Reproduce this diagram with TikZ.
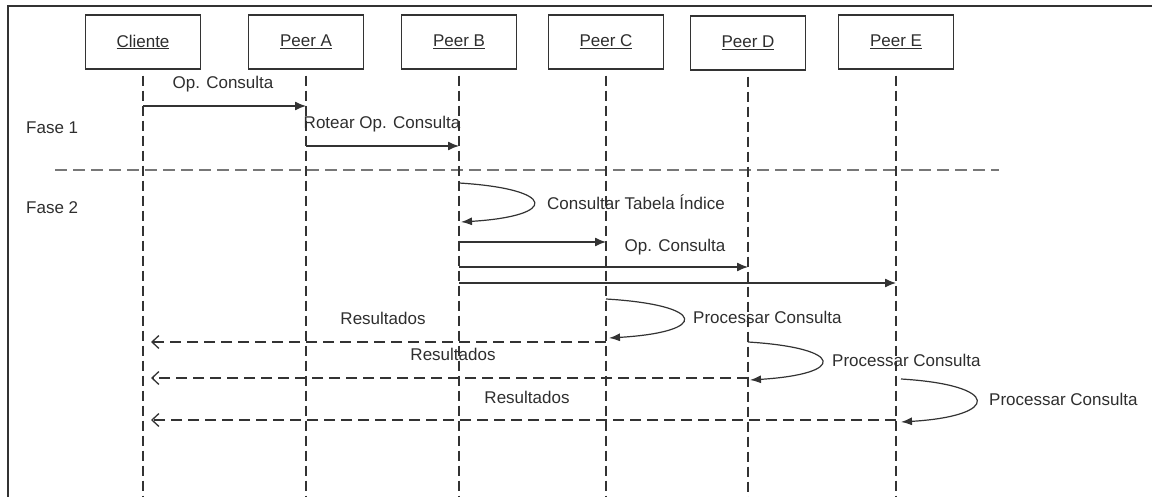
\documentclass[tikz,border=0pt]{standalone}
\usepackage{fontspec}
\setmainfont{Liberation Sans}
\usetikzlibrary{arrows.meta}
\definecolor{ln}{HTML}{333333}
\definecolor{tx}{HTML}{2E2E2E}
\definecolor{sep}{HTML}{777777}
\tikzset{
  x=1pt, y=-1pt,
  every node/.style={font=\fontsize{17}{20}\selectfont, text=tx, inner sep=0pt},
  actor/.style={draw=ln, line width=1.2pt, minimum width=115pt, minimum height=54pt, fill=white},
  lifeline/.style={draw=ln, line width=1.4pt, dash pattern=on 10pt off 5pt},
  msg/.style={draw=ln, line width=1.3pt, -{Latex[length=11pt,width=9pt]}},
  ret/.style={draw=ln, line width=1.3pt, dash pattern=on 11pt off 6pt, -{Straight Barb[length=7pt,width=13pt,line width=1.3pt]}},
  selfmsg/.style={draw=ln, line width=1.2pt, -{Latex[length=11pt,width=8pt]}},
  lbl/.style={anchor=center},
  lblw/.style={anchor=west},
}
\begin{document}
\begin{tikzpicture}
\useasboundingbox (0,0) rectangle (1152,497);
% frame
\coordinate (fbl) at (8,497);
\coordinate (ftl) at (8,6);
\coordinate (ftr) at (1152,6);
\draw[ln, line width=1.5pt] (fbl) -- (ftl) -- (ftr);
% separator
\coordinate (s1) at (55,170);
\coordinate (s2) at (999,170);
\draw[sep, line width=1.8pt, dash pattern=on 12pt off 6pt] (s1) -- (s2);
% actors
\node[actor] (cl) at (143,42) {\underline{Cliente}};
\node[actor] (pa) at (306,42) {\underline{Peer A}};
\node[actor] (pb) at (459,42) {\underline{Peer B}};
\node[actor] (pc) at (606,42) {\underline{Peer C}};
\node[actor] (pd) at (748,43) {\underline{Peer D}};
\node[actor] (pe) at (896,42) {\underline{Peer E}};
% lifelines
\foreach \a in {cl,pa,pb,pc,pd,pe}{
  \coordinate (\a b) at (\a |- 0,497);
  \draw[lifeline] ([yshift=-6pt]\a.south) -- (\a b);
}
% phase labels
\node[lblw] (f1) at (26,128) {Fase 1};
\node[lblw] (f2) at (26,208) {Fase 2};
% phase 1
\draw[msg] (cl |- 0,106) -- (pa |- 0,106);
\node[lbl] (l1) at (223,84) {Op. Consulta};
\draw[msg] (pa |- 0,146) -- (pb |- 0,146);
\node[lbl] (l2) at (382,124) {Rotear Op. Consulta};
% phase 2
\draw[selfmsg] (pb |- 0,183) .. controls +(98,6) and +(98,-6) .. ([xshift=2pt]pb |- 0,222);
\node[lblw] (l3) at (547,202) {Consultar Tabela Índice};
\draw[msg] (pb |- 0,242) -- (pc |- 0,242);
\draw[msg] (pb |- 0,267) -- (pd |- 0,267);
\node[lbl] (l4) at (675,247) {Op. Consulta};
\draw[msg] (pb |- 0,283) -- (pe |- 0,283);
% peer C
\draw[selfmsg] (pc |- 0,299) .. controls +(101,6) and +(101,-6) .. ([xshift=3pt]pc |- 0,338);
\node[lblw] (l5) at (693,317) {Processar Consulta};
\draw[ret] (pc |- 0,342) -- ([xshift=8pt]cl |- 0,342);
\node[lbl] (r1) at (383,318) {Resultados};
% peer D
\draw[selfmsg] (pd |- 0,342) .. controls +(97,6) and +(97,-6) .. ([xshift=2pt]pd |- 0,380);
\node[lblw] (l6) at (832,360) {Processar Consulta};
\draw[ret] (pd |- 0,378) -- ([xshift=8pt]cl |- 0,378);
\node[lbl] (r2) at (453,354) {Resultados};
% peer E
\draw[selfmsg] ([xshift=5pt]pe |- 0,379) .. controls +(100,6) and +(100,-6) .. ([xshift=5pt]pe |- 0,422);
\node[lblw] (l7) at (989,399) {Processar Consulta};
\draw[ret] (pe |- 0,420) -- ([xshift=8pt]cl |- 0,420);
\node[lbl] (r3) at (527,397) {Resultados};
\end{tikzpicture}
\end{document}
